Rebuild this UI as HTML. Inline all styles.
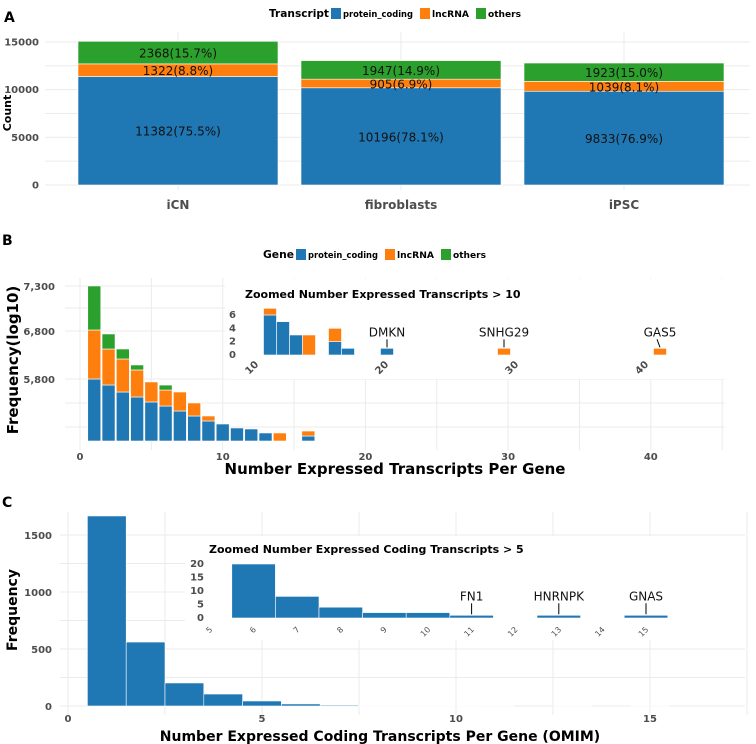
<!DOCTYPE html>
<html><head><meta charset="utf-8"><style>
body{margin:0;background:#fff}
svg{display:block;font-family:"DejaVu Sans","Liberation Sans",sans-serif}
.tk{font-size:10px;font-weight:bold;fill:#4d4d4d}
.gr{stroke:#ebebeb;stroke-width:1}
.an{stroke:#000;stroke-width:1}
</style></head><body>
<svg id="fig" width="756" height="744" viewBox="0 0 756 744"></svg>
<script>
// ---- Panel A data
const aCats=["iCN","fibroblasts","iPSC"];
const aCoding=[11382,10196,9833];
const aLnc=[1322,905,1039];
const aOther=[2368,1947,1923];
const aLabCoding=["11382(75.5%)","10196(78.1%)","9833(76.9%)"];
const aLabLnc=["1322(8.8%)","905(6.9%)","1039(8.1%)"];
const aLabOther=["2368(15.7%)","1947(14.9%)","1923(15.0%)"];
const aTicks=[0,5000,10000,15000];
// ---- Panel B data
const bX=[1,2,3,4,5,6,7,8,9,10,11,12,13,14,16];
const bCoding=[920,831,727,653,579,519,445,371,297,252,193,178,119,0,74];
const bLnc=[727,534,490,401,297,237,282,193,74,0,0,0,0,119,74];
const bOther=[653,223,148,74,0,74,0,0,0,0,0,0,0,0,0];
const bTickVals=[7300,6632,5920];
const bTickLabels=["7,300","6,800","5,800"];
const bXTicks=[0,10,20,30,40];
const biX=[11,12,13,14,16,17,20,29,41];
const biCoding=[6,5,3,0,2,1,1,0,0];
const biLnc=[1,0,0,3,2,0,0,1,1];
const biTicks=[0,2,4,6];
const biXTicks=[10,20,30,40];
const biLabels=[["DMKN",20],["SNHG29",29],["GAS5",41]];
// ---- Panel C data
const cX=[1,2,3,4,5,6,7,8,9,10,11,12,13,14,15];
const cFreq=[1667,561,202,105,44,18,8,4,2,2,1,0,1,0,1];
const cTicks=[0,500,1000,1500];
const cXTicks=[0,5,10,15];
const ciX=[6,7,8,9,10,11,13,15];
const ciFreq=[20,8,4,2,2,1,1,1];
const ciTicks=[0,5,10,15,20];
const ciXTicks=[5,6,7,8,9,10,11,12,13,14,15];
const ciLabels=[["FN1",11],["HNRNPK",13],["GNAS",15]];

const C={b:"#1f77b4",o:"#ff7f0e",g:"#2ca02c"};
const svg=document.getElementById('fig');
const NS="http://www.w3.org/2000/svg";
function mk(tag,at,parent,txt){const e=document.createElementNS(NS,tag);for(const k in at)e.setAttribute(k,at[k]);if(txt!==undefined)e.textContent=txt;(parent||svg).appendChild(e);return e;}
function line(x1,y1,x2,y2,cls,name){const e=mk('line',{x1,y1,x2,y2,class:cls||'gr'});

return e;}
function text(x,y,s,at,name){const e=mk('text',Object.assign({x,y},at),svg,s);

return e;}
function rect(x,y,w,h,fill,name,stroke){const e=mk('rect',{x,y,width:w,height:Math.max(0,h),fill,stroke:stroke||'none','stroke-width':0.6});

return e;}
function legend(x,y,title,tw,name){
  text(x,y+4,title,{'font-size':11,'font-weight':'bold',textLength:tw,lengthAdjust:'spacingAndGlyphs'},name+'-title');
  let cx=x+tw+2;
  [["protein_coding",C.b,70],["lncRNA",C.o,37],["others",C.g,33]].forEach(([s,c,w])=>{
    rect(cx,y-5,10,11,c,name+'-swatch-'+s);
    text(cx+12,y+4,s,{'font-size':9,'font-weight':'bold',textLength:w,lengthAdjust:'spacingAndGlyphs'},name+'-entry-'+s);
    cx+=12+w+7;
  });
}
// ================= Panel A
text(4,22,"A",{'font-size':14,'font-weight':'bold'},'panel-a-label');
legend(269,13,"Transcript",60,'legend-a');
const ay=v=>185-v*(143/15000);
const ax=i=>178+i*223;
[2500,7500,12500].forEach(v=>line(45,ay(v),750,ay(v)));
aTicks.forEach(v=>{line(45,ay(v),750,ay(v));text(39,ay(v)+3.5,String(v),{class:'tk','text-anchor':'end','font-size':9},'y-tick-a');});
aCats.forEach((c,i)=>line(ax(i),32,ax(i),190));
aCats.forEach((c,i)=>{
  const x=ax(i)-100,w=200;
  const y1=ay(aCoding[i]),y2=ay(aCoding[i]+aLnc[i]),y3=ay(aCoding[i]+aLnc[i]+aOther[i]);
  rect(x,y1,w,ay(0)-y1,C.b,'bar-a-coding-'+c,'#fff');
  rect(x,y2,w,y1-y2,C.o,'bar-a-lnc-'+c,'#fff');
  rect(x,y3,w,y2-y3,C.g,'bar-a-other-'+c,'#fff');
  text(ax(i),(y1+ay(0))/2+5,aLabCoding[i],{'font-size':12,'text-anchor':'middle',fill:'#111'},'value-label');
  text(ax(i),(y1+y2)/2+5,aLabLnc[i],{'font-size':12,'text-anchor':'middle',fill:'#111'},'value-label');
  text(ax(i),(y2+y3)/2+5,aLabOther[i],{'font-size':12,'text-anchor':'middle',fill:'#111'},'value-label');
  text(ax(i),209,c,{'font-size':12,'font-weight':'bold','text-anchor':'middle',fill:'#4d4d4d'},'x-tick-a');
});
text(11,113,"Count",{'font-size':11,'font-weight':'bold','text-anchor':'middle',transform:'rotate(-90 11 113)'},'y-axis-title-a');
// ================= Panel B
text(2,245,"B",{'font-size':14,'font-weight':'bold'},'panel-b-label');
legend(263,254,"Gene",31,'legend-b');
const bx=v=>80+v*14.27;
const by=v=>441-(v-5000)*0.0674;
[308,403,427].forEach(y=>line(65,y,725,y));
bTickVals.forEach((v,i)=>{line(65,by(v),725,by(v));text(55,by(v)+4,bTickLabels[i],{class:'tk','text-anchor':'end'},'y-tick-b');});
[0,5,10,15,20,25,30,35,40,45].forEach(v=>line(bx(v),278,bx(v),450));
bXTicks.forEach(v=>text(bx(v),460,String(v),{class:'tk','text-anchor':'middle','font-size':9},'x-tick-b'));
bX.forEach((xv,i)=>{
  const x=bx(xv)-6.5,w=13;
  const b0=by(5000),b1=by(5000+bCoding[i]),b2=by(5000+bCoding[i]+bLnc[i]),b3=by(5000+bCoding[i]+bLnc[i]+bOther[i]);
  if(bCoding[i])rect(x,b1,w,b0-b1,C.b,'bar-b-coding','#fff');
  if(bLnc[i])rect(x,b2,w,b1-b2,C.o,'bar-b-lnc','#fff');
  if(bOther[i])rect(x,b3,w,b2-b3,C.g,'bar-b-other','#fff');
});
text(18,360,"Frequency(log10)",{'font-size':15,'font-weight':'bold','text-anchor':'middle',transform:'rotate(-90 18 360)'},'y-axis-title-b');
text(395,474,"Number Expressed Transcripts Per Gene",{'font-size':15,'font-weight':'bold','text-anchor':'middle'},'x-axis-title-b');
// inset B
rect(225,279,500,100,'#fff','inset-b-background');
text(245,298,"Zoomed Number Expressed Transcripts > 10",{'font-size':11,'font-weight':'bold'},'inset-b-title');
const ix=v=>270+(v-11)*13;
const iy=v=>355-v*6.67;
biTicks.forEach(v=>text(236,iy(v)+3,String(v),{class:'tk','text-anchor':'end','font-size':9},'inset-b-y-tick'));
biXTicks.forEach(v=>text(ix(v)+2,iy(0)+10,String(v),{class:'tk','text-anchor':'end','font-size':9,transform:`rotate(-45 ${ix(v)+2} ${iy(0)+10})`},'inset-b-x-tick'));
biX.forEach((xv,i)=>{
  const x=ix(xv)-6.5,y1=iy(biCoding[i]),y2=iy(biCoding[i]+biLnc[i]);
  if(biCoding[i])rect(x,y1,13,iy(0)-y1,C.b,'inset-b-bar-coding','#fff');
  if(biLnc[i])rect(x,y2,13,y1-y2,C.o,'inset-b-bar-lnc','#fff');
});
biLabels.forEach(([s,v])=>{const i=biX.indexOf(v);const top=iy(biCoding[i]+biLnc[i]);
  line(ix(v)-(s==="GAS5"?3:0),top-9,ix(v),top-1,'an','annotation-line');
  text(ix(v),top-12,s,{'font-size':12,'text-anchor':'middle',fill:'#111'},'annotation-'+s);});
// ================= Panel C
text(2,507,"C",{'font-size':14,'font-weight':'bold'},'panel-c-label');
const cx=v=>68+v*38.8;
const cy=v=>706-v*0.114;
[250,750,1250].forEach(v=>line(60,cy(v),745,cy(v)));
cTicks.forEach(v=>{line(60,cy(v),745,cy(v));text(52,cy(v)+4,String(v),{class:'tk','text-anchor':'end','font-size':9},'y-tick-c');});
[0,2.5,5,7.5,10,12.5,15,17.5].forEach(v=>line(cx(v),512,cx(v),715));
cXTicks.forEach(v=>text(cx(v),722,String(v),{class:'tk','text-anchor':'middle','font-size':9},'x-tick-c'));
cX.forEach((xv,i)=>{const y=cy(cFreq[i]);rect(cx(xv)-19.4,y,38.8,cy(0)-y,xv>7?'#a9c8e0':C.b,'bar-c','#fff');});
text(17,610,"Frequency",{'font-size':14,'font-weight':'bold','text-anchor':'middle',transform:'rotate(-90 17 610)'},'y-axis-title-c');
text(380,741,"Number Expressed Coding Transcripts Per Gene (OMIM)",{'font-size':14,'font-weight':'bold','text-anchor':'middle'},'x-axis-title-c');
// inset C
rect(185,536,560,104,'#fff','inset-c-background');
text(209,553,"Zoomed Number Expressed Coding Transcripts > 5",{'font-size':11,'font-weight':'bold'},'inset-c-title');
const jx=v=>210+(v-5)*43.6;
const jy=v=>618-v*2.7;
ciTicks.forEach(v=>text(204,jy(v)+3,String(v),{class:'tk','text-anchor':'end','font-size':9},'inset-c-y-tick'));
ciXTicks.forEach(v=>text(jx(v)+3,jy(0)+12,String(v),{'font-size':8,fill:'#4d4d4d','text-anchor':'end',transform:`rotate(-45 ${jx(v)+3} ${jy(0)+12})`},'inset-c-x-tick'));
ciX.forEach((xv,i)=>{const y=jy(ciFreq[i]);rect(jx(xv)-21.8,y,43.6,jy(0)-y,C.b,'inset-c-bar','#fff');});
ciLabels.forEach(([s,v])=>{const i=ciX.indexOf(v);const top=jy(ciFreq[i]);
  line(jx(v),top-12,jx(v),top-1,'an','annotation-line');
  text(jx(v),top-15,s,{'font-size':12,'text-anchor':'middle',fill:'#111'},'annotation-'+s);});
</script>
</body></html>
